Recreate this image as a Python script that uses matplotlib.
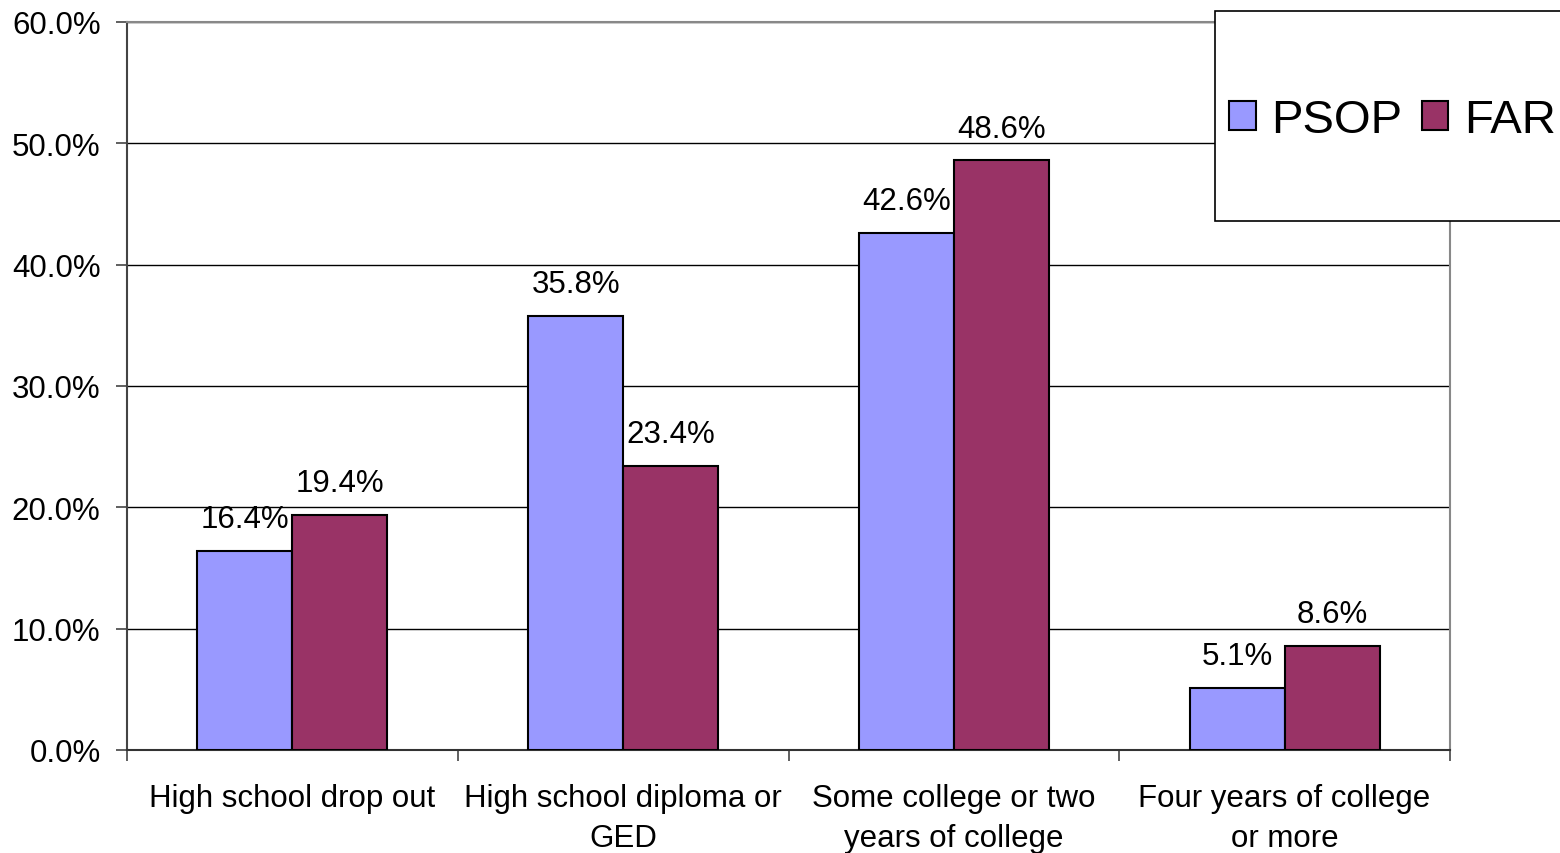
import matplotlib
matplotlib.use("Agg")
import matplotlib.pyplot as plt
from matplotlib.patches import Rectangle
import numpy as np

categories = ["High school drop out", "High school diploma or\nGED",
              "Some college or two\nyears of college", "Four years of college\nor more"]
psop = [16.4, 35.8, 42.6, 5.1]
far = [19.4, 23.4, 48.6, 8.6]
series_names = ["PSOP", "FAR"]
yticks = [0, 10, 20, 30, 40, 50, 60]

plt.rcParams["font.family"] = ["Liberation Sans", "DejaVu Sans"]

fig = plt.figure(figsize=(15.6, 8.54), dpi=100)
ax = fig.add_axes([127 / 1560, 1 - 751 / 854, (1450 - 127) / 1560, (751 - 23) / 854])

x = np.arange(len(categories))
w = 0.287
b1 = ax.bar(x - w / 2, psop, w, color="#9999FF", edgecolor="black", linewidth=1.5,
            label=series_names[0], zorder=3)
b2 = ax.bar(x + w / 2, far, w, color="#993366", edgecolor="black", linewidth=1.5,
            label=series_names[1], zorder=3)

for bars, vals in ((b1, psop), (b2, far)):
    for r, v in zip(bars, vals):
        ax.annotate(f"{v:.1f}%", (r.get_x() + r.get_width() / 2, v),
                    xytext=(0, 12), textcoords="offset points",
                    ha="center", va="bottom", fontsize=22.5, zorder=4)

ax.set_xlim(-0.5, len(categories) - 0.5)
ax.set_ylim(0, 60)
ax.set_yticks(yticks)
ax.set_yticklabels([f"{t:.1f}%" for t in yticks], fontsize=22.5)
ax.yaxis.grid(True, color="black", linewidth=1.0, zorder=0)
ax.set_axisbelow(True)

# category separators as major ticks, names as minor tick labels
ax.set_xticks(np.arange(len(categories) + 1) - 0.5)
ax.set_xticklabels([])
ax.set_xticks(x, minor=True)
ax.set_xticklabels(categories, minor=True, fontsize=22.5, linespacing=1.45)
ax.tick_params(axis="x", which="major", length=8, width=1.2, color="#444444", direction="out")
ax.tick_params(axis="x", which="minor", length=0, pad=23.5)
ax.tick_params(axis="y", length=8, width=1.2, color="#444444", direction="out", pad=11)

ax.spines["left"].set_color("#444444")
ax.spines["left"].set_linewidth(1.5)
ax.spines["bottom"].set_color("#333333")
ax.spines["bottom"].set_linewidth(1.5)
ax.spines["top"].set_color("#888888")
ax.spines["top"].set_linewidth(1.5)
ax.spines["right"].set_color("#888888")
ax.spines["right"].set_linewidth(1.5)

# legend box
fig.patches.append(Rectangle((1215 / 1560, 1 - 222 / 854), 0.3, (222 - 12) / 854,
                             transform=fig.transFigure, facecolor="white",
                             edgecolor="black", linewidth=1.2, zorder=5))
leg = fig.legend(handles=[b1, b2], labels=series_names, loc="center left",
                 bbox_to_anchor=(1229 / 1560, 1 - 121 / 854), ncol=2, frameon=False,
                 fontsize=34, handlelength=0.57, handleheight=0.57,
                 handletextpad=0.33, columnspacing=0.4, borderaxespad=0, borderpad=0)
leg.set_zorder(6)

fig.savefig("out.png", dpi=100)
